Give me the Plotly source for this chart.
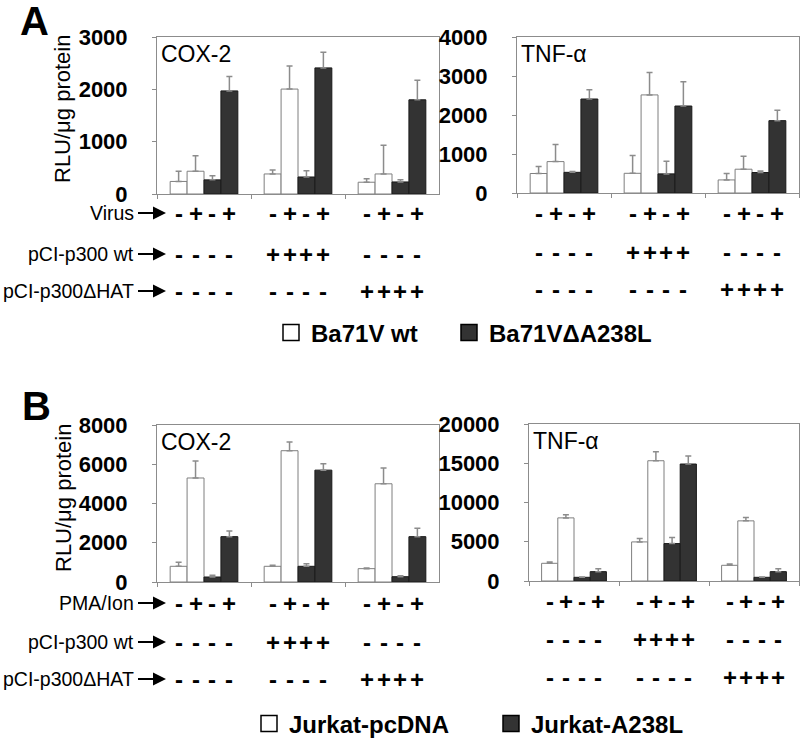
import plotly.graph_objects as go

# ---------------- data ----------------
categories = ["none", "pCI-p300 wt", "pCI-p300ΔHAT"]

# Panel A, COX-2 (RLU/µg protein)
a_cox_wt_minus = [240, 383, 225]
a_cox_wt_minus_err = [195, 77, 65]
a_cox_wt_plus = [435, 2005, 383]
a_cox_wt_plus_err = [295, 440, 550]
a_cox_del_minus = [270, 325, 230]
a_cox_del_minus_err = [80, 120, 40]
a_cox_del_plus = [1970, 2410, 1800]
a_cox_del_plus_err = [275, 300, 375]

# Panel A, TNF-alpha
a_tnf_wt_minus = [500, 505, 335]
a_tnf_wt_minus_err = [180, 455, 165]
a_tnf_wt_plus = [805, 2515, 610]
a_tnf_wt_plus_err = [440, 575, 335]
a_tnf_del_minus = [530, 490, 525]
a_tnf_del_minus_err = [20, 325, 40]
a_tnf_del_plus = [2410, 2230, 1855]
a_tnf_del_plus_err = [235, 625, 265]

# Panel B, COX-2
b_cox_pc_minus = [800, 800, 680]
b_cox_pc_minus_err = [200, 50, 35]
b_cox_pc_plus = [5300, 6690, 5005]
b_cox_pc_plus_err = [860, 440, 800]
b_cox_a238_minus = [255, 800, 270]
b_cox_a238_minus_err = [85, 135, 50]
b_cox_a238_plus = [2310, 5700, 2310]
b_cox_a238_plus_err = [290, 320, 425]

# Panel B, TNF-alpha
b_tnf_pc_minus = [2255, 4980, 2000]
b_tnf_pc_minus_err = [170, 425, 170]
b_tnf_pc_plus = [8040, 15320, 7660]
b_tnf_pc_plus_err = [385, 1150, 425]
b_tnf_a238_minus = [470, 4765, 470]
b_tnf_a238_minus_err = [40, 765, 40]
b_tnf_a238_plus = [1190, 14900, 1190]
b_tnf_a238_plus_err = [385, 1020, 385]

# treatment sign rows (per group, per bar)
stim_signs = ["-", "+", "-", "+"]
p300wt_signs = [["-"] * 4, ["+"] * 4, ["-"] * 4]
p300hat_signs = [["-"] * 4, ["-"] * 4, ["+"] * 4]

y_ranges = [3000, 4000, 8000, 20000]
y_dticks = [1000, 1000, 2000, 5000]
panel_titles = ["COX-2", "TNF-α", "COX-2", "TNF-α"]
y_title = "RLU/μg protein"

legend_a = ["Ba71V wt", "Ba71VΔA238L"]
legend_b = ["Jurkat-pcDNA", "Jurkat-A238L"]

# ---------------- style ----------------
W, H = 800, 740
FONT = "Arial, Liberation Sans, Helvetica, sans-serif"
WHITE_FILL, WHITE_LINE = "#ffffff", "#7f7f7f"
DARK_FILL, DARK_LINE = "#333333", "#1a1a1a"
ERR_COLOR = "#8c8c8c"
FRAME = "#8c8c8c"

def px_x(p):
    return p / W

def px_y(p):
    return 1 - p / H

# pixel boxes of the four plot areas: (left, right, top, bottom)
boxes = [(157, 439, 37, 194), (517, 799, 37, 193),
         (157, 439, 425, 582), (529, 799, 424, 581)]

panels = [
    [(a_cox_wt_minus, a_cox_wt_minus_err), (a_cox_wt_plus, a_cox_wt_plus_err),
     (a_cox_del_minus, a_cox_del_minus_err), (a_cox_del_plus, a_cox_del_plus_err)],
    [(a_tnf_wt_minus, a_tnf_wt_minus_err), (a_tnf_wt_plus, a_tnf_wt_plus_err),
     (a_tnf_del_minus, a_tnf_del_minus_err), (a_tnf_del_plus, a_tnf_del_plus_err)],
    [(b_cox_pc_minus, b_cox_pc_minus_err), (b_cox_pc_plus, b_cox_pc_plus_err),
     (b_cox_a238_minus, b_cox_a238_minus_err), (b_cox_a238_plus, b_cox_a238_plus_err)],
    [(b_tnf_pc_minus, b_tnf_pc_minus_err), (b_tnf_pc_plus, b_tnf_pc_plus_err),
     (b_tnf_a238_minus, b_tnf_a238_minus_err), (b_tnf_a238_plus, b_tnf_a238_plus_err)],
]

fig = go.Figure()
BARGAP = 0.28
bar_w = (1 - BARGAP) / 4
offsets = [(-1.5 + j) * bar_w for j in range(4)]

for k, series in enumerate(panels):
    ax = "" if k == 0 else str(k + 1)
    for j, (vals, errs) in enumerate(series):
        dark = j >= 2
        fig.add_trace(go.Bar(
            x=categories, y=vals,
            xaxis="x" + ax, yaxis="y" + ax,
            marker=dict(color=DARK_FILL if dark else WHITE_FILL,
                        line=dict(color=DARK_LINE if dark else WHITE_LINE, width=1)),
            error_y=dict(type="data", array=errs, arrayminus=[0] * len(errs),
                         symmetric=False, color=ERR_COLOR, thickness=1.5, width=3),
            showlegend=False, hoverinfo="skip",
        ))

# legend entries (large square swatches), one legend box per entry
legend_ids = ["legend", "legend2", "legend3", "legend4"]
legend_names = legend_a + legend_b
legend_dark = [False, True, False, True]
for name, lg, dark in zip(legend_names, legend_ids, legend_dark):
    fig.add_trace(go.Scatter(
        x=[None], y=[None], mode="markers", name=name, legend=lg,
        marker=dict(symbol="square", size=16,
                    color=DARK_FILL if dark else WHITE_FILL,
                    line=dict(color="#000000", width=1.5)),
    ))

layout = dict(
    width=W, height=H, margin=dict(l=0, r=0, t=0, b=0, autoexpand=False),
    paper_bgcolor="white", plot_bgcolor="white",
    barmode="group", bargap=BARGAP, bargroupgap=0,
    font=dict(family=FONT, color="black"),
    showlegend=True,
)

for k, (l, r, t, b) in enumerate(boxes):
    sfx = "" if k == 0 else str(k + 1)
    layout["xaxis" + sfx] = dict(
        domain=[px_x(l), px_x(r)], anchor="y" + sfx, automargin=False,
        type="category", showticklabels=False, tickson="boundaries",
        ticks="outside", ticklen=4, tickcolor=FRAME,
        showline=True, linecolor=FRAME, linewidth=1, mirror=True,
        showgrid=False, zeroline=False, fixedrange=True,
    )
    layout["yaxis" + sfx] = dict(
        domain=[px_y(b), px_y(t)], anchor="x" + sfx, automargin=False,
        range=[0, y_ranges[k]], dtick=y_dticks[k], tick0=0, tickformat="d",
        ticks="outside", ticklen=4, tickcolor=FRAME,
        tickfont=dict(size=22, family=FONT, weight="bold"),
        ticklabelstandoff=20,
        showline=True, linecolor=FRAME, linewidth=1, mirror=True,
        showgrid=False, zeroline=False, fixedrange=True,
    )

annotations = []
# y axis titles (left panels)
for cy in (109, 498):
    annotations.append(dict(text=y_title, x=px_x(63), y=px_y(cy), xref="paper", yref="paper",
                            xanchor="center", yanchor="middle", textangle=-90,
                            showarrow=False, font=dict(size=22, family=FONT)))
# panel labels
annotations.append(dict(text="<b>A</b>", x=px_x(34), y=px_y(21), xref="paper", yref="paper",
                        xanchor="center", yanchor="middle", showarrow=False,
                        font=dict(size=40, family=FONT)))
annotations.append(dict(text="<b>B</b>", x=px_x(36), y=px_y(406), xref="paper", yref="paper",
                        xanchor="center", yanchor="middle", showarrow=False,
                        font=dict(size=40, family=FONT)))
# gene titles
for k, title in enumerate(panel_titles):
    sfx = "" if k == 0 else str(k + 1)
    annotations.append(dict(text=title, x=0.0, y=1.0, xref="x%s domain" % sfx,
                            yref="y%s domain" % sfx, xanchor="left", yanchor="top",
                            xshift=2, yshift=-2,
                            showarrow=False, font=dict(size=23, family=FONT)))

# treatment rows
row_y = {0: [213, 254, 291], 1: [213, 252, 289], 2: [603, 642, 679], 3: [601, 639, 677]}
row_labels = {0: ["Virus", "pCI-p300 wt", "pCI-p300ΔHAT"],
              2: ["PMA/Ion", "pCI-p300 wt", "pCI-p300ΔHAT"]}
for k in range(4):
    sfx = "" if k == 0 else str(k + 1)
    rows = [[stim_signs] * 3, p300wt_signs, p300hat_signs]
    for r, row in enumerate(rows):
        for i in range(len(categories)):
            for j in range(4):
                annotations.append(dict(
                    text="<b>%s</b>" % row[i][j], x=i + offsets[j], y=px_y(row_y[k][r]),
                    xref="x" + sfx, yref="paper", xanchor="center", yanchor="middle",
                    showarrow=False, font=dict(size=24, family=FONT)))
    if k in row_labels:
        for r, lab in enumerate(row_labels[k]):
            annotations.append(dict(
                text=lab, x=px_x(166), y=px_y(row_y[k][r]), xref="paper", yref="paper",
                ax=-30, ay=0, xanchor="right", yanchor="middle",
                showarrow=True, arrowhead=2, arrowsize=1.3, arrowwidth=2,
                arrowcolor="black", standoff=0, startstandoff=2,
                font=dict(size=19.5, family=FONT)))

layout["annotations"] = annotations

legend_common = dict(orientation="h", xanchor="left", yanchor="middle",
                     bgcolor="rgba(0,0,0,0)", itemclick=False, itemdoubleclick=False,
                     font=dict(size=24, family=FONT, weight="bold"), itemwidth=30)
legend_pos = [(296, 333), (474, 333), (274, 724), (516, 724)]
for lg, (cx, cy) in zip(legend_ids, legend_pos):
    layout[lg] = dict(legend_common, x=px_x(cx - 25), y=px_y(cy))

fig.update_layout(**layout)
fig.write_html("out.html", config={"displayModeBar": False},
               post_script="document.body.style.margin='0';document.body.style.overflow='hidden';")
